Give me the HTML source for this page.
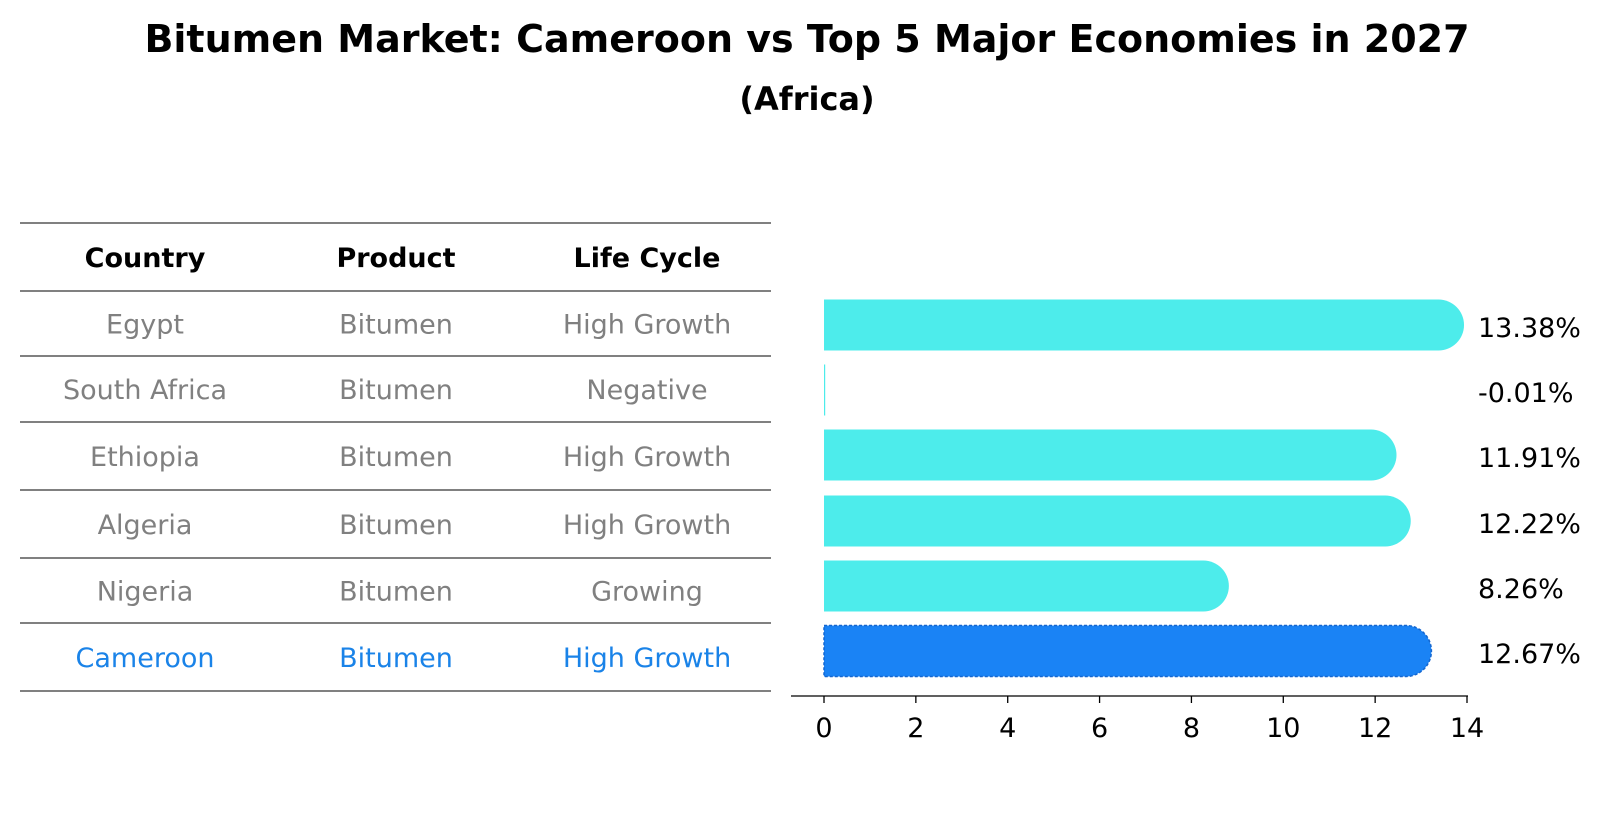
<!DOCTYPE html>
<html><head><meta charset="utf-8"><style>
body{margin:0;background:#fff;}
svg{display:block;font-family:"DejaVu Sans","Liberation Sans",sans-serif;}
</style></head><body>
<svg id="c" width="1604" height="823" xmlns="http://www.w3.org/2000/svg">
<text x="807" y="52" text-anchor="middle" font-size="38" font-weight="bold">Bitumen Market: Cameroon vs Top 5 Major Economies in 2027</text>
<text x="807" y="110" text-anchor="middle" font-size="32" font-weight="bold">(Africa)</text>
<g id="tbl"></g>
<g id="bars"></g>
</svg>
<script>
const countries=["Egypt","South Africa","Ethiopia","Algeria","Nigeria","Cameroon"];
const products=["Bitumen","Bitumen","Bitumen","Bitumen","Bitumen","Bitumen"];
const lifeCycles=["High Growth","Negative","High Growth","High Growth","Growing","High Growth"];
const values=[13.38,-0.01,11.91,12.22,8.26,12.67];
const valueLabels=["13.38%","-0.01%","11.91%","12.22%","8.26%","12.67%"];
const ticks=[0,2,4,6,8,10,12,14];
const NS="http://www.w3.org/2000/svg";
function mk(t,a,p,txt){const e=document.createElementNS(NS,t);for(const k in a)e.setAttribute(k,a[k]);if(txt!==undefined)e.textContent=txt;p.appendChild(e);return e;}
const tbl=document.getElementById('tbl');
const lines=[223,291,356,422,490,558,623,691];
lines.forEach(y=>{const l=mk('line',{x1:20,x2:771,y1:y,y2:y,stroke:'#000','stroke-width':1},tbl);

});
const cols=[145,396,647];
["Country","Product","Life Cycle"].forEach((h,i)=>{const t=mk('text',{x:cols[i],y:(lines[0]+lines[1])/2+10,'text-anchor':'middle','font-size':27,'font-weight':'bold'},tbl,h);

});
countries.forEach((c,r)=>{const y=(lines[r+1]+lines[r+2])/2+10;const col=r===5?'#1a83e8':'#808080';
[c,products[r],lifeCycles[r]].forEach((v,i)=>{const t=mk('text',{x:cols[i],y:y,'text-anchor':'middle','font-size':27,fill:col},tbl,v);

});});
const g=document.getElementById('bars');
const x0=824,unit=(1467-824)/14;
const X=v=>x0+v*unit;
const centers=[325,390,455,521,586,651];
const bh=51;
values.forEach((v,i)=>{const cy=centers[i];const cam=i===5;const fill=cam?'#1a83f5':'#4deceb';
if(v>0){
const p=mk('path',{d:`M${x0},${cy-bh/2} H${X(v)} A${bh/2},${bh/2} 0 0 1 ${X(v)},${cy+bh/2} H${x0} Z`,fill:fill,stroke:cam?'#1466d0':'none','stroke-width':cam?1.5:0,'stroke-dasharray':cam?'3,2':''},g);


}else{
const p=mk('rect',{x:x0,y:cy-bh/2,width:1.2,height:bh,fill:fill},g);


}
const t=mk('text',{x:1478,y:cy+12,'font-size':27},g,valueLabels[i]);


});
const ax=mk('line',{x1:791,x2:1468,y1:696,y2:696,stroke:'#000','stroke-width':1.3},g);


ticks.forEach(t=>{const tk=mk('line',{x1:X(t),x2:X(t),y1:696,y2:703,stroke:'#000','stroke-width':1.3},g);


const tl=mk('text',{x:X(t),y:737,'text-anchor':'middle','font-size':27},g,String(t));

});
</script>
</body></html>
